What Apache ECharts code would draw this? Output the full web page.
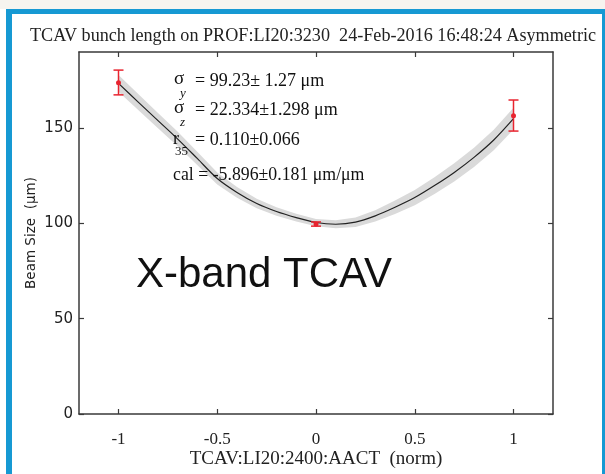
<!DOCTYPE html>
<html>
<head>
<meta charset="utf-8">
<script src="https://cdn.jsdelivr.net/npm/echarts@6/dist/echarts.min.js"></script>
<style>
  html, body { margin: 0; padding: 0; background: #ffffff; }
  #chart { width: 605px; height: 474px; }
</style>
</head>
<body>
<div id="chart"></div>
<script>
// Quadrupole scan: TCAV amplitude vs. measured beam size
const scanX = [-1.0, -0.9, -0.8, -0.7, -0.6, -0.5, -0.4, -0.3, -0.2, -0.1, 0.0,
               0.1, 0.2, 0.3, 0.4, 0.5, 0.6, 0.7, 0.8, 0.9, 1.0];
const fitY = [173.5, 163.7, 154.0, 144.3, 134.0, 123.6, 116.3, 110.5, 106.3, 103.1, 100.5,
              99.6, 100.7, 104.0, 108.5, 113.6, 119.9, 126.8, 134.7, 143.8, 155.0];
const bandHalf = [4.4, 4.2, 4.0, 3.8, 3.5, 3.2, 2.8, 2.5, 2.2, 2.0, 1.9,
                  2.1, 2.5, 3.0, 3.5, 4.0, 4.4, 4.8, 5.1, 5.4, 5.7];

// measured points with error bars
const measX = [-1, 0, 1];
const measY = [173.8, 99.7, 156.6];
const measLo = [167.5, 98.6, 148.5];
const measHi = [180.5, 100.8, 164.8];

const xTicks = [-1, -0.5, 0, 0.5, 1];
const yTicks = [0, 50, 100, 150];

const titleText = 'TCAV bunch length on PROF:LI20:3230  24-Feb-2016 16:48:24 Asymmetric';
const xName = 'TCAV:LI20:2400:AACT  (norm)';
const yName = 'Beam Size  (\u03bcm)';

const fitLine = scanX.map((x, i) => [x, fitY[i]]);
const bandData = scanX.map((x, i) => [x, fitY[i] - bandHalf[i], fitY[i] + bandHalf[i]]);
const meas = measX.map((x, i) => [x, measY[i], measLo[i], measHi[i]]);

const serif = '"Liberation Serif", "DejaVu Serif", serif';
const sans = '"DejaVu Sans", "Liberation Sans", sans-serif';
const axisColor = '#3a3a3a';
const red = '#e8242f';

const chart = echarts.init(document.getElementById('chart'), null, { renderer: 'canvas' });

function boxAxis(pos, showLabels, isX) {
  const ticks = isX ? xTicks : yTicks;
  return {
    type: 'value',
    position: pos,
    min: isX ? -1.2 : 0,
    max: isX ? 1.2 : 190,
    nameMoveOverlap: false,
    axisLine: { show: true, onZero: false, lineStyle: { color: axisColor, width: 1.5 } },
    axisTick: { show: true, inside: true, length: 5, customValues: ticks,
                lineStyle: { color: axisColor, width: 1.2 } },
    splitLine: { show: false },
    axisLabel: {
      show: showLabels,
      customValues: ticks,
      margin: isX ? 17 : 6,
      color: '#222',
      fontFamily: isX ? serif : sans,
      fontSize: isX ? 17 : 15,
      formatter: v => String(v)
    }
  };
}

const xBottom = boxAxis('bottom', true, true);
xBottom.name = xName;
xBottom.nameLocation = 'middle';
xBottom.nameGap = 36;
xBottom.nameTextStyle = { fontFamily: serif, fontSize: 19, color: '#222' };

const yLeft = boxAxis('left', true, false);
yLeft.name = yName;
yLeft.nameLocation = 'middle';
yLeft.nameGap = 41;
yLeft.nameRotate = 90;
yLeft.nameTextStyle = { fontFamily: sans, fontSize: 13.5, color: '#222' };

// text helpers for the fit summary
function txt(x, y, s, size) {
  return {
    type: 'text', z: 10, silent: true,
    style: { x: x, y: y, text: s, font: size + 'px "Liberation Serif", serif',
             fill: '#111', verticalAlign: 'middle' }
  };
}
function italic(x, y, s, size) {
  const t = txt(x, y, s, size);
  t.style.font = 'italic ' + size + 'px "Liberation Serif", serif';
  return t;
}

chart.setOption({
  animation: false,
  backgroundColor: '#ffffff',
  title: {
    text: titleText,
    left: 25, top: 22,
    textStyle: { fontFamily: serif, fontSize: 18.15, fontWeight: 'normal', color: '#222' }
  },
  grid: { left: 79, right: 52, top: 52, bottom: 60, outerBoundsMode: 'none', containLabel: false },
  xAxis: [xBottom, boxAxis('top', false, true)],
  yAxis: [yLeft, boxAxis('right', false, false)],
  graphic: [
    // slide frame
    { type: 'rect', shape: { x: 0, y: 0, width: 605, height: 9 }, style: { fill: '#f6f4ef' }, silent: true },
    { type: 'rect', shape: { x: 6, y: 9, width: 599, height: 5 }, style: { fill: '#1699d3' }, silent: true },
    { type: 'rect', shape: { x: 6, y: 9, width: 6, height: 465 }, style: { fill: '#1699d3' }, silent: true },
    { type: 'rect', shape: { x: 602, y: 9, width: 3, height: 465 }, style: { fill: '#1699d3' }, silent: true },
    // fit results
    txt(174, 79, '\u03c3', 19),
    italic(180, 94, 'y', 13),
    txt(195, 81, '= 99.23\u00b1 1.27 \u03bcm', 18),
    txt(174, 108, '\u03c3', 19),
    italic(180, 123, 'z', 13),
    txt(195, 110, '= 22.334\u00b11.298 \u03bcm', 18),
    txt(173, 139, 'r', 18),
    txt(175, 152, '35', 13),
    txt(195, 140, '= 0.110\u00b10.066', 18),
    txt(173, 175, 'cal = -5.896\u00b10.181 \u03bcm/\u03bcm', 17.8),
    {
      type: 'text', z: 10, silent: true,
      style: { x: 136, y: 275, text: 'X-band TCAV', verticalAlign: 'middle',
               font: '42px "Liberation Sans", Arial, sans-serif', fill: '#111' }
    }
  ],
  series: [
    {
      // confidence band around the fit
      type: 'custom', data: bandData, z: 1, silent: true,
      renderItem: function (params, api) {
        if (params.dataIndex !== 0) return null;
        const top = [], bot = [];
        for (let i = 0; i < bandData.length; i++) {
          top.push(api.coord([bandData[i][0], bandData[i][2]]));
          bot.push(api.coord([bandData[i][0], bandData[i][1]]));
        }
        return {
          type: 'polygon',
          shape: { points: top.concat(bot.reverse()) },
          style: { fill: '#dadada' }
        };
      }
    },
    {
      type: 'line', data: fitLine, symbol: 'none', smooth: 0.3,
      lineStyle: { color: '#222', width: 1.2 }, z: 3
    },
    {
      type: 'custom', data: meas, z: 4,
      renderItem: function (params, api) {
        const x = api.value(0);
        const lo = api.coord([x, api.value(2)]);
        const hi = api.coord([x, api.value(3)]);
        const c = api.coord([x, api.value(1)]);
        const w = 5;
        const st = { stroke: red, lineWidth: 1.5 };
        return {
          type: 'group',
          children: [
            { type: 'line', shape: { x1: lo[0], y1: lo[1], x2: hi[0], y2: hi[1] }, style: st },
            { type: 'line', shape: { x1: lo[0] - w, y1: lo[1], x2: lo[0] + w, y2: lo[1] }, style: st },
            { type: 'line', shape: { x1: hi[0] - w, y1: hi[1], x2: hi[0] + w, y2: hi[1] }, style: st },
            { type: 'circle', shape: { cx: c[0], cy: c[1], r: 2.5 }, style: { fill: red } }
          ]
        };
      }
    }
  ]
});
</script>
</body>
</html>
